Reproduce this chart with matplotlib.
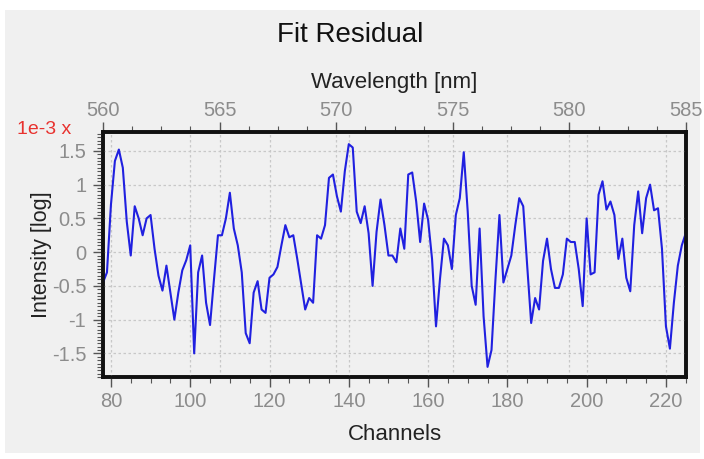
import matplotlib
matplotlib.use('Agg')
import matplotlib.pyplot as plt
import numpy as np
from matplotlib.patches import Rectangle
from matplotlib.ticker import AutoMinorLocator, MultipleLocator

# residual per channel, in units of 1e-3
channels = np.arange(78, 226)
residual = [
    -0.45, -0.30, 0.70, 1.35, 1.52, 1.25, 0.45, -0.05, 0.68, 0.50,   # 78-87
    0.25, 0.50, 0.55, 0.05, -0.35, -0.57, -0.20, -0.60, -1.00, -0.60,  # 88-97
    -0.27, -0.12, 0.10, -1.50, -0.30, -0.05, -0.75, -1.08, -0.40, 0.25,  # 98-107
    0.25, 0.50, 0.88, 0.35, 0.10, -0.30, -1.20, -1.35, -0.60, -0.43,  # 108-117
    -0.85, -0.90, -0.38, -0.33, -0.22, 0.10, 0.40, 0.22, 0.25, -0.10,  # 118-127
    -0.48, -0.85, -0.68, -0.75, 0.25, 0.20, 0.40, 1.10, 1.15, 0.83,   # 128-137
    0.60, 1.20, 1.60, 1.55, 0.60, 0.43, 0.68, 0.28, -0.50, 0.30,      # 138-147
    0.78, 0.40, -0.05, -0.05, -0.15, 0.35, 0.05, 1.15, 1.18, 0.75,    # 148-157
    0.15, 0.72, 0.48, -0.10, -1.10, -0.40, 0.20, 0.10, -0.25, 0.55,   # 158-167
    0.80, 1.48, 0.60, -0.50, -0.78, 0.35, -0.95, -1.70, -1.45, -0.40,  # 168-177
    0.55, -0.45, -0.25, -0.05, 0.40, 0.80, 0.68, -0.20, -1.05, -0.68,  # 178-187
    -0.85, -0.13, 0.20, -0.25, -0.53, -0.53, -0.33, 0.20, 0.15, 0.15,  # 188-197
    -0.25, -0.80, 0.50, -0.33, -0.30, 0.85, 1.05, 0.63, 0.75, 0.55,   # 198-207
    -0.10, 0.20, -0.38, -0.58, 0.40, 0.90, 0.28, 0.80, 1.00, 0.62,    # 208-217
    0.65, 0.05, -1.10, -1.43, -0.75, -0.20, 0.10, 0.28,               # 218-225
]
ch_range = (78, 225.06)
wl_range = (560, 585)

plt.rcParams['font.family'] = ['Liberation Sans', 'DejaVu Sans']

fig = plt.figure(figsize=(7.04, 4.59), dpi=100)
fig.add_artist(Rectangle((5 / 704, 6 / 459), 695 / 704, 443 / 459,
                         transform=fig.transFigure, facecolor='#f0f0f0',
                         edgecolor='none', zorder=-10))

rect = [103 / 704, (459 - 377) / 459, 583 / 704, 245 / 459]
ax = fig.add_axes(rect)
ax2 = ax.twiny()
ax.set_zorder(2)
ax.patch.set_visible(False)
ax2.set_zorder(1)
ax2.patch.set_facecolor('white')

ax.plot(channels, residual, color='#2020e0', lw=1.5)
ax.set_xlim(*ch_range)
ax.set_ylim(-1.85, 1.78)
ax2.set_xlim(*wl_range)

tick_gray = '#8c8c8c'
ax.xaxis.set_major_locator(MultipleLocator(20))
ax.xaxis.set_minor_locator(MultipleLocator(5))
ax.yaxis.set_major_locator(MultipleLocator(0.5))
ax.yaxis.set_minor_locator(AutoMinorLocator(10))
ax2.xaxis.set_major_locator(MultipleLocator(5))
ax2.xaxis.set_minor_locator(AutoMinorLocator(4))
ax.yaxis.set_major_formatter(plt.FuncFormatter(lambda v, p: f'{v:g}'))

for a in (ax, ax2):
    a.tick_params(which='major', length=7, width=1, color='#555555',
                  labelcolor=tick_gray, labelsize=14.5)
    a.tick_params(which='minor', length=4, width=0.8, color='#555555')
    a.grid(True, which='major', color='#c8c8c8', linestyle=(0, (2, 2)), lw=0.9)
    for s in a.spines.values():
        s.set_linewidth(2.6)
        s.set_color('#111111')
ax.tick_params(axis='x', pad=4)
ax.tick_params(axis='y', pad=5)
ax2.tick_params(axis='x', pad=2)
ax2.yaxis.grid(False)

ax.set_xlabel('Channels', fontsize=16, color='#222222', labelpad=9)
ax.set_ylabel('Intensity [log]', fontsize=15.5, color='#222222', labelpad=0)
ax2.set_xlabel('Wavelength [nm]', fontsize=16, color='#222222', labelpad=9)

fig.text(0.497, 1 - 35 / 459, 'Fit Residual', ha='center', va='center',
         fontsize=20, color='#111111')
fig.text(17 / 704, 1 - 129 / 459, '1e-3 x', ha='left', va='center',
         fontsize=14, color='#e8322f')

fig.savefig('out.png', dpi=100)
